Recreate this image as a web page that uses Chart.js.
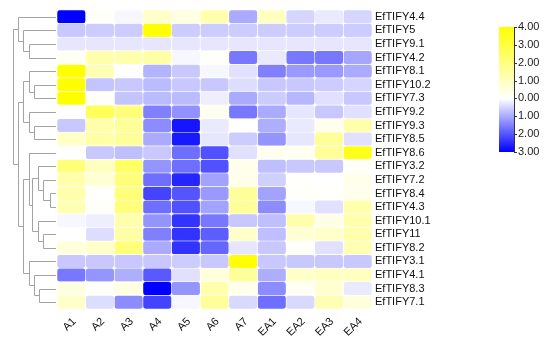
<!DOCTYPE html>
<html>
<head>
<meta charset="utf-8">
<script src="https://cdn.jsdelivr.net/npm/chart.js@4.4.1/dist/chart.umd.min.js"></script>
<style>
  html, body { margin: 0; padding: 0; background: #fff; }
  #wrap { width: 550px; height: 341px; position: relative; }
</style>
</head>
<body>
<div id="wrap"><canvas id="heat"></canvas></div>
<script>
const genes = [
    'EfTIFY4.4', 'EfTIFY5', 'EfTIFY9.1', 'EfTIFY4.2', 'EfTIFY8.1', 'EfTIFY10.2',
    'EfTIFY7.3', 'EfTIFY9.2', 'EfTIFY9.3', 'EfTIFY8.5', 'EfTIFY8.6', 'EfTIFY3.2',
    'EfTIFY7.2', 'EfTIFY8.4', 'EfTIFY4.3', 'EfTIFY10.1', 'EfTIFY11', 'EfTIFY8.2',
    'EfTIFY3.1', 'EfTIFY4.1', 'EfTIFY8.3', 'EfTIFY7.1'
];
const samples = ['A1', 'A2', 'A3', 'A4', 'A5', 'A6', 'A7', 'EA1', 'EA2', 'EA3', 'EA4'];

// one array per sample, values in gene order (top to bottom)
const A1  = [-3, -0.65, -0.3, 0.2, 4, 4, 4, 0, -0.65, 0.9, 0, 2.1, 1.3, 1.3, 1.2, -0.1, 0, 0.55, -0.65, -1.6, 0.45, 0.85];
const A2  = [0.1, -0.6, -0.3, 1.3, 1.2, -0.7, 0.05, 2.6, 1.3, 1.4, -0.65, 1.0, 0.65, 0.05, 0.1, -0.2, -0.4, 0.85, -0.65, -1.25, 0.1, -0.4];
const A3  = [-0.1, -0.6, -0.3, 1.3, 0, -0.65, -0.7, 2.1, 1.6, 1.6, -0.75, 2.4, 2.1, 2.1, 2.1, 1.3, 1.4, 2.1, -0.65, -0.95, 0.45, -1.35];
const A4  = [0.85, 4, -0.3, 1.4, -0.9, -0.8, -0.8, -1.5, -1.35, -1.0, -0.65, -1.25, -1.7, -2.2, -1.7, -1.25, -1.5, -1.0, -0.65, -1.95, -3, -2.2];
const A5  = [0.45, -0.6, -0.3, -0.1, -0.65, -0.65, -0.8, -1.3, -2.75, -2.7, -1.7, -1.7, -2.55, -2.0, -2.05, -2.4, -2.4, -2.4, -0.6, -0.35, -1.25, -0.1];
const A6  = [1.3, -0.6, -0.3, 0.1, -0.1, -0.65, -0.2, 0.25, -0.25, -0.3, -2.05, -2.05, -1.1, -1.2, -1.1, -1.6, -1.9, -1.8, -0.65, 0.55, 1.3, 1.6];
const A7  = [-1.0, -0.6, -0.3, -1.6, -0.35, -0.4, -1.0, -1.6, 0, -0.6, -0.35, 0.3, 0.3, 1.6, 1.6, -0.65, 0.85, -0.3, 4, 1.6, 0.3, -0.45];
const EA1 = [1.0, -0.6, -0.3, -0.25, -1.5, -0.65, -0.6, -1.0, -0.95, -1.25, 0.25, -0.75, -0.55, -1.1, -1.35, -0.75, -0.75, -0.65, -0.65, -0.95, -1.35, -1.7];
const EA2 = [-0.5, -0.6, -0.3, -1.6, -1.2, -0.65, -0.85, -0.3, -0.25, -0.3, 0.2, -0.65, 0.05, 0.1, -0.1, 1.3, 0.65, 0.1, -0.65, 0.85, 0.2, -0.45];
const EA3 = [-0.25, -0.6, -0.3, -1.6, -1.2, -0.6, -0.35, -0.65, 0.3, 1.6, 1.6, -0.65, 0, 0.05, -0.35, 0.4, 0.85, -0.35, -0.65, 1.0, 0.7, 1.2];
const EA4 = [-0.5, -0.6, -0.3, -1.05, -1.0, -0.5, -0.65, -0.35, 1.3, -0.35, 3.6, 0.1, 0.3, 0.3, 1.3, 1.3, 1.3, 1.2, -0.65, 1.0, -0.25, 0.55];
const series = [A1, A2, A3, A4, A5, A6, A7, EA1, EA2, EA3, EA4];

// row clustering: [childA, childB, height]; ids 0-21 are genes, merges get 22, 23, ...
const links = [
    [2, 3, 27], [1, 22, 33], [0, 23, 38.7],
    [5, 6, 22], [4, 25, 27], [8, 9, 22], [7, 27, 27], [26, 28, 33],
    [13, 14, 5.3], [12, 30, 12], [11, 31, 17.7], [16, 17, 12], [15, 33, 17.7],
    [32, 34, 24], [10, 35, 27],
    [20, 21, 17], [19, 37, 22], [18, 38, 27], [36, 39, 33],
    [29, 40, 38.7], [24, 41, 43.7]
];

const scaleTicks = ['4.00', '3.00', '2.00', '1.00', '0.00', '1.00', '2.00', '3.00'];
const scaleMax = 4;
const scaleMin = -3;

function cellColor(v) {
    if (v >= 0) {
        const t = Math.min(v / scaleMax, 1);
        return 'rgb(255,255,' + Math.round(255 * (1 - t)) + ')';
    }
    const t = Math.min(v / scaleMin, 1);
    const c = Math.round(255 * (1 - t));
    return 'rgb(' + c + ',' + c + ',255)';
}

const datasets = series.map((vals, j) => ({
    label: samples[j],
    data: vals.map(() => [j, j + 1]),
    backgroundColor: vals.map(cellColor),
    borderColor: '#ffffff',
    borderWidth: 0.6,
    borderSkipped: false,
    borderRadius: 3,
    barPercentage: 1,
    categoryPercentage: 1,
    grouped: false
}));

const dendrogram = {
    id: 'dendrogram',
    afterDraw(chart) {
        const ctx = chart.ctx;
        const y = chart.scales.y;
        const left = chart.chartArea.left;
        const maxH = links[links.length - 1][2];
        const xOf = h => left - 2 - h / maxH * (left - 15);
        const nodes = genes.map((g, i) => ({ y: y.getPixelForValue(i), h: 0 }));
        ctx.save();
        ctx.strokeStyle = '#a3a3a3';
        ctx.lineWidth = 1;
        ctx.beginPath();
        links.forEach(([a, b, h]) => {
            const na = nodes[a], nb = nodes[b];
            const x = Math.round(xOf(h)) + 0.5;
            const xa = na.h ? Math.round(xOf(na.h)) + 0.5 : left - 1;
            const xb = nb.h ? Math.round(xOf(nb.h)) + 0.5 : left - 1;
            const ya = Math.round(na.y) + 0.5, yb = Math.round(nb.y) + 0.5;
            ctx.moveTo(x, ya); ctx.lineTo(xa, ya);
            ctx.moveTo(x, yb); ctx.lineTo(xb, yb);
            ctx.moveTo(x, ya); ctx.lineTo(x, yb);
            nodes.push({ y: (na.y + nb.y) / 2, h: h });
        });
        ctx.stroke();
        ctx.restore();
    }
};

const colorBar = {
    id: 'colorBar',
    afterDraw(chart) {
        const ctx = chart.ctx;
        const x0 = 499, y0 = 27, w = 15, h = 125;
        const grad = ctx.createLinearGradient(0, y0, 0, y0 + h);
        const steps = 28;
        for (let k = 0; k <= steps; k++) {
            const v = scaleMax - (scaleMax - scaleMin) * k / steps;
            grad.addColorStop(k / steps, cellColor(v));
        }
        ctx.save();
        ctx.fillStyle = grad;
        ctx.fillRect(x0, y0, w, h);
        ctx.strokeStyle = '#333';
        ctx.lineWidth = 1;
        ctx.beginPath();
        ctx.moveTo(x0 + w + 0.5, y0);
        ctx.lineTo(x0 + w + 0.5, y0 + h);
        scaleTicks.forEach((t, k) => {
            const ty = Math.round(y0 + h * k / (scaleTicks.length - 1)) + 0.5;
            ctx.moveTo(x0 + w, ty);
            ctx.lineTo(x0 + w + 3, ty);
        });
        ctx.stroke();
        ctx.fillStyle = '#222';
        ctx.font = '11px "Liberation Sans", Arial, sans-serif';
        ctx.textBaseline = 'middle';
        scaleTicks.forEach((t, k) => {
            ctx.fillText(t, x0 + w + 4, y0 + h * k / (scaleTicks.length - 1));
        });
        ctx.restore();
    }
};

Chart.defaults.font.family = '"Liberation Sans", Arial, sans-serif';
Chart.defaults.font.size = 11;
Chart.defaults.color = '#111';

new Chart(document.getElementById('heat'), {
    type: 'bar',
    data: { labels: genes, datasets: datasets },
    options: {
        indexAxis: 'y',
        responsive: true,
        maintainAspectRatio: false,
        animation: false,
        layout: { padding: { left: 57, top: 10, right: 0, bottom: 0 } },
        scales: {
            x: {
                type: 'linear', min: 0, max: samples.length, display: false
            },
            x2: {
                type: 'category', labels: samples, position: 'bottom', offset: true,
                grid: { display: false, drawTicks: false }, border: { display: false },
                ticks: { minRotation: 45, maxRotation: 45, padding: 6, labelOffset: 3, autoSkip: false },
                afterFit(s) { s.height = 32; }
            },
            y: {
                position: 'right',
                grid: { display: false, drawTicks: false }, border: { display: false },
                ticks: { padding: 3, autoSkip: false },
                afterFit(s) { s.width = 178; }
            }
        },
        plugins: {
            legend: { display: false },
            tooltip: { enabled: false }
        }
    },
    plugins: [dendrogram, colorBar]
});
</script>
</body>
</html>
